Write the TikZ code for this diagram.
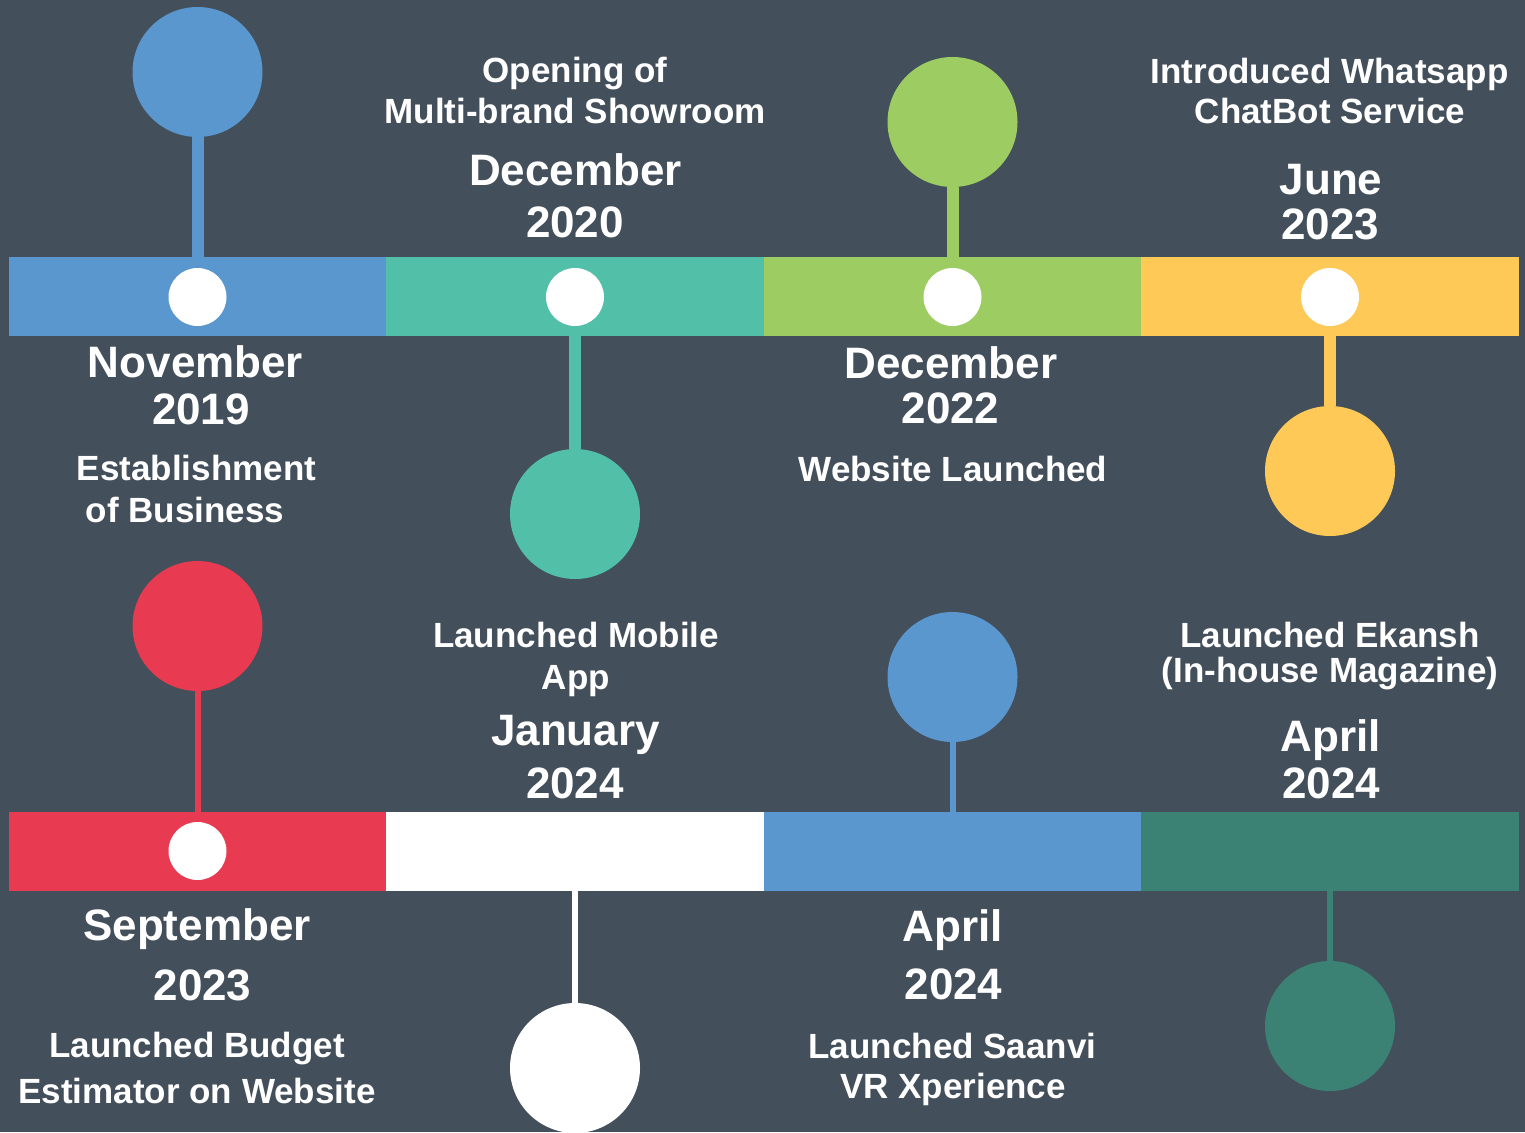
\documentclass[tikz,border=0pt]{standalone}
\usepackage{fontspec}
\setmainfont{Liberation Sans}
\definecolor{bgc}{HTML}{434F5A}
\definecolor{cblue}{HTML}{5B97CF}
\definecolor{cteal}{HTML}{52BFA8}
\definecolor{cgreen}{HTML}{9DCD62}
\definecolor{cyellow}{HTML}{FEC956}
\definecolor{cred}{HTML}{E83A50}
\definecolor{cdteal}{HTML}{3C8274}
\tikzset{
  barseg/.style={rectangle, draw=none, minimum width=378pt, minimum height=79pt, inner sep=0pt},
  bigdot/.style={circle, draw=none, minimum size=130pt, inner sep=0pt},
  smalldot/.style={circle, fill=white, draw=none, minimum size=58pt, inner sep=0pt},
  datetxt/.style={text=white, font=\fontsize{44}{50}\selectfont\bfseries, anchor=base, inner sep=0pt},
  desctxt/.style={text=white, font=\fontsize{35}{40}\selectfont\bfseries, anchor=base, inner sep=0pt},
  thickstem/.style={line width=12pt},
  thinstem/.style={line width=6pt}
}
\begin{document}
\begin{tikzpicture}[x=1pt,y=-1pt]
\useasboundingbox (0,0) rectangle (1525,1132);
\clip (0,0) rectangle (1525,1132);
\fill[bgc] (0,0) rectangle (1525,1132);

% top bar
\node[barseg, fill=cblue]   (t1) at (197.5,296.5) {};
\node[barseg, fill=cteal]   (t2) at (575,296.5) {};
\node[barseg, fill=cgreen]  (t3) at (952.5,296.5) {};
\node[barseg, fill=cyellow] (t4) at (1330,296.5) {};
% bottom bar
\node[barseg, fill=cred]    (u1) at (197.5,851.5) {};
\node[barseg, fill=white]   (u2) at (575,851.5) {};
\node[barseg, fill=cblue]   (u3) at (952.5,851.5) {};
\node[barseg, fill=cdteal]  (u4) at (1330,851.5) {};

% small white dots
\node[smalldot] (d1) at (197.5,297) {};
\node[smalldot] (d2) at (575,297) {};
\node[smalldot] (d3) at (952.5,297) {};
\node[smalldot] (d4) at (1330,297) {};
\node[smalldot] (d5) at (197.5,851) {};

% big circles
\node[bigdot, fill=cblue]   (c1) at (197.5,72) {};
\node[bigdot, fill=cteal]   (c2) at (575,514) {};
\node[bigdot, fill=cgreen]  (c3) at (952.5,122) {};
\node[bigdot, fill=cyellow] (c4) at (1330,471) {};
\node[bigdot, fill=cred]    (c5) at (197.5,626) {};
\node[bigdot, fill=white]   (c6) at (575,1068) {};
\node[bigdot, fill=cblue]   (c7) at (952.5,677) {};
\node[bigdot, fill=cdteal]  (c8) at (1330,1026) {};

% stems
\draw[thickstem, cblue]   (c1) -- (t1);
\draw[thickstem, cteal]   (c2) -- (t2);
\draw[thickstem, cgreen]  (c3) -- (t3);
\draw[thickstem, cyellow] (c4) -- (t4);
\draw[thinstem, cred]     (c5) -- (u1);
\draw[thinstem, white]    (c6) -- (u2);
\draw[thinstem, cblue]    (c7) -- (u3);
\draw[thinstem, cdteal]   (c8) -- (u4);

% texts: top row
\node[datetxt] (m1) at (195.5,377) {November};
\node[datetxt] (y1) at (201,424) {2019};
\node[desctxt] (e1a) at (196.5,480) {Establishment};
\node[desctxt] (e1b) at (185,522) {of Business};

\node[desctxt] (e2a) at (575,82) {Opening of};
\node[desctxt] (e2b) at (575,123) {Multi-brand Showroom};
\node[datetxt] (m2) at (575.5,185) {December};
\node[datetxt] (y2) at (575,237) {2020};

\node[datetxt] (m3) at (951,378) {December};
\node[datetxt] (y3) at (950.5,423) {2022};
\node[desctxt] (e3a) at (953,481) {Website Launched};

\node[desctxt] (e4a) at (1329.5,83) {Introduced Whatsapp};
\node[desctxt] (e4b) at (1330,123) {ChatBot Service};
\node[datetxt] (m4) at (1331,194) {June};
\node[datetxt] (y4) at (1330,239) {2023};

% texts: bottom row
\node[datetxt] (m5) at (197,940) {September};
\node[datetxt] (y5) at (202.5,1000) {2023};
\node[desctxt] (e5a) at (197,1057) {Launched Budget};
\node[desctxt] (e5b) at (197,1103) {Estimator on Website};

\node[desctxt] (e6a) at (576,647) {Launched Mobile};
\node[desctxt] (e6b) at (576,689) {App};
\node[datetxt] (m6) at (575.5,745) {January};
\node[datetxt] (y6) at (575,798) {2024};

\node[datetxt] (m7) at (953,941) {April};
\node[datetxt] (y7) at (953.5,999) {2024};
\node[desctxt] (e7a) at (952.5,1058) {Launched Saanvi};
\node[desctxt] (e7b) at (953,1098) {VR Xperience};

\node[desctxt] (e8a) at (1330,647) {Launched Ekansh};
\node[desctxt] (e8b) at (1330,682) {(In-house Magazine)};
\node[datetxt] (m8) at (1331,751) {April};
\node[datetxt] (y8) at (1331,798) {2024};
\end{tikzpicture}
\end{document}
